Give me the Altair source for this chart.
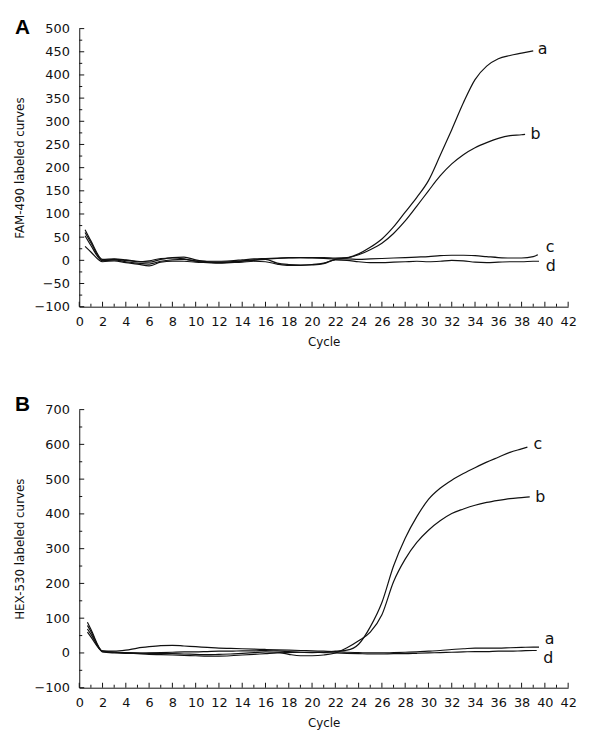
import altair as alt
import pandas as pd

# ---------------- Panel A (FAM-490) ----------------
A_BASE_CYC = [0.5] + list(range(1, 23))
A_a_base = [66, 42, 2, 3, 1, -2, -4, 2, 6, 7, 1, -3, -4, -3, -1, 1, 3, 4, 5, 6, 6, 6, 5]
A_b_base = [60, 38, 0, 2, 0, -3, -1, 4, 5, 3, -2, -4, -5, -4, -2, 0, 2, -6, -9, -10, -9, -6, 2]
A_c_base = [53, 32, -1, 1, -3, -6, -8, -2, 1, 2, -1, -2, -2, -1, 1, 3, 4, 5, 6, 6, 5, 4, 3]
A_d_base = [30, 18, -3, -1, -5, -8, -12, -4, -2, -2, -4, -5, -6, -5, -4, -2, -3, -8, -11, -11, -10, -7, 1]

A_a_cyc = list(range(23, 40))
A_a_val = [6, 14, 28, 46, 72, 104, 136, 172, 226, 282, 340, 390, 419, 435, 442, 447, 452]
A_b_cyc = list(range(23, 39)) + [38.3]
A_b_val = [5, 12, 23, 37, 58, 85, 117, 150, 182, 208, 228, 243, 254, 263, 269, 271, 272]
A_c_cyc = list(range(23, 40)) + [39.4]
A_c_val = [3, 2, 3, 4, 5, 6, 7, 8, 10, 11, 11, 10, 8, 6, 5, 5, 8, 12]
A_d_cyc = list(range(23, 40)) + [39.5]
A_d_val = [0, -3, -5, -5, -4, -3, -2, -3, -2, 0, -1, -4, -5, -4, -3, -3, -2, -2]

A_LABELS = ["a", "b", "c", "d"]
A_LABEL_X = [39.8, 39.2, 40.45, 40.5]
A_LABEL_Y = [455, 272, 28, -13]

# ---------------- Panel B (HEX-530) ----------------
B_BASE_CYC = [0.7] + list(range(1, 23))
B_a_base = [88, 68, 6, 5, 8, 14, 18, 21, 22, 20, 18, 16, 14, 13, 12, 11, 10, 9, 8, 7, 6, 5, 4]
B_b_base = [79, 62, 4, 2, 1, 0, -1, -2, -2, -3, -4, -5, -4, -3, -1, 1, 3, 2, -4, -8, -8, -6, 0]
B_c_base = [69, 54, 3, 0, -1, -1, 0, 1, 2, 3, 3, 4, 5, 5, 6, 6, 7, 6, 4, 2, 1, 2, 5]
B_d_base = [60, 46, 5, 2, 0, -2, -4, -5, -6, -7, -8, -9, -9, -8, -6, -4, -2, 0, 1, 2, 2, 1, 0]

B_a_cyc = list(range(23, 40)) + [39.5]
B_a_val = [2, 1, 0, 0, 1, 2, 3, 5, 7, 10, 12, 14, 14, 14, 15, 16, 17, 17]
B_b_cyc = list(range(23, 39)) + [38.7]
B_b_val = [15, 35, 60, 110, 205, 270, 318, 353, 380, 401, 414, 425, 433, 439, 444, 447, 449]
B_c_cyc = list(range(23, 39)) + [38.5]
B_c_val = [8, 25, 75, 145, 250, 330, 392, 442, 474, 497, 516, 533, 549, 563, 577, 587, 592]
B_d_cyc = list(range(23, 40)) + [39.3]
B_d_val = [-1, -2, -3, -3, -2, -2, -1, 0, 1, 2, 3, 4, 4, 5, 5, 6, 7, 7]

B_LABELS = ["c", "b", "a", "d"]
B_LABEL_X = [39.4, 39.6, 40.4, 40.3]
B_LABEL_Y = [600, 449, 41, -16]

X_MAJOR = list(range(0, 43, 2))
X_MINOR = list(range(1, 42, 2))

W, H = 494, 281
FONT = "DejaVu Sans"


def build_df(base_cyc, bases, tails):
    rows = []
    for name, base, (tc, tv) in zip(["a", "b", "c", "d"], bases, tails):
        for c, v in zip(base_cyc + tc, base + tv):
            rows.append({"curve": name, "cycle": c, "value": v})
    return pd.DataFrame(rows)


def panel(df, labels, letter, ytitle, ydom, ymajor, yminor, letter_y):
    xs = alt.Scale(domain=[0, 42], nice=False, zero=False)
    ys = alt.Scale(domain=ydom, nice=False, zero=False)
    X = alt.X("cycle:Q", scale=xs,
              axis=alt.Axis(values=X_MAJOR, title="Cycle", labelFlush=False,
                            labelOverlap=False, labelPadding=9, titlePadding=8,
                            grid=False, ticks=False))
    Y = alt.Y("value:Q", scale=ys,
              axis=alt.Axis(values=ymajor, title=ytitle, labelFlush=False,
                            labelOverlap=False, labelPadding=10, titlePadding=8,
                            grid=False, ticks=False))

    lines = alt.Chart(df).mark_line(interpolate="monotone", color="#111",
                                    strokeWidth=1.2).encode(x=X, y=Y, detail="curve:N")
    lab = alt.Chart(labels).mark_text(font=FONT, fontSize=16, color="#111",
                                      align="center", baseline="middle").encode(
        x=X, y=Y, text="label:N")

    xmaj = alt.Chart(pd.DataFrame({"cycle": X_MAJOR})).mark_rule(color="#111").encode(
        x=X, y=alt.value(H), y2=alt.value(H - 5))
    xmin = alt.Chart(pd.DataFrame({"cycle": X_MINOR})).mark_rule(color="#111").encode(
        x=X, y=alt.value(H), y2=alt.value(H - 3))
    ymaj = alt.Chart(pd.DataFrame({"value": ymajor})).mark_rule(color="#111").encode(
        y=Y, x=alt.value(0), x2=alt.value(5))
    ymin = alt.Chart(pd.DataFrame({"value": yminor})).mark_rule(color="#111").encode(
        y=Y, x=alt.value(0), x2=alt.value(3))

    let = alt.Chart(pd.DataFrame({"t": [letter]})).mark_text(
        font="Liberation Sans", fontWeight="bold", fontSize=21, color="#000",
        align="left", baseline="alphabetic").encode(
        text="t:N", x=alt.value(-65), y=alt.value(letter_y))

    return alt.layer(lines, lab, xmaj, xmin, ymaj, ymin, let).properties(width=W, height=H)


dfA = build_df(A_BASE_CYC, [A_a_base, A_b_base, A_c_base, A_d_base],
               [(A_a_cyc, A_a_val), (A_b_cyc, A_b_val), (A_c_cyc, A_c_val), (A_d_cyc, A_d_val)])
dfB = build_df(B_BASE_CYC, [B_a_base, B_b_base, B_c_base, B_d_base],
               [(B_a_cyc, B_a_val), (B_b_cyc, B_b_val), (B_c_cyc, B_c_val), (B_d_cyc, B_d_val)])
labA = pd.DataFrame({"label": A_LABELS, "cycle": A_LABEL_X, "value": A_LABEL_Y})
labB = pd.DataFrame({"label": B_LABELS, "cycle": B_LABEL_X, "value": B_LABEL_Y})

A_YMAJOR = list(range(-100, 501, 50))
A_YMINOR = list(range(-75, 500, 50))
B_YMAJOR = list(range(-100, 701, 100))
B_YMINOR = list(range(-50, 700, 100))

pA = panel(dfA, labA, "A", "FAM-490 labeled curves", [-100, 500], A_YMAJOR, A_YMINOR, 5)
pB = panel(dfB, labB, "B", "HEX-530 labeled curves", [-100, 700], B_YMAJOR, B_YMINOR, 1)

chart = alt.vconcat(pA, pB, spacing=47).configure_view(stroke=None).configure_axis(
    grid=False, ticks=False, domainColor="#111", domainWidth=1,
    labelFont=FONT, labelFontSize=13, labelColor="#111",
    titleFont=FONT, titleFontSize=12, titleFontWeight="normal", titleColor="#111"
)

chart.save("out.html", embed_options={"renderer": "svg", "actions": False})
